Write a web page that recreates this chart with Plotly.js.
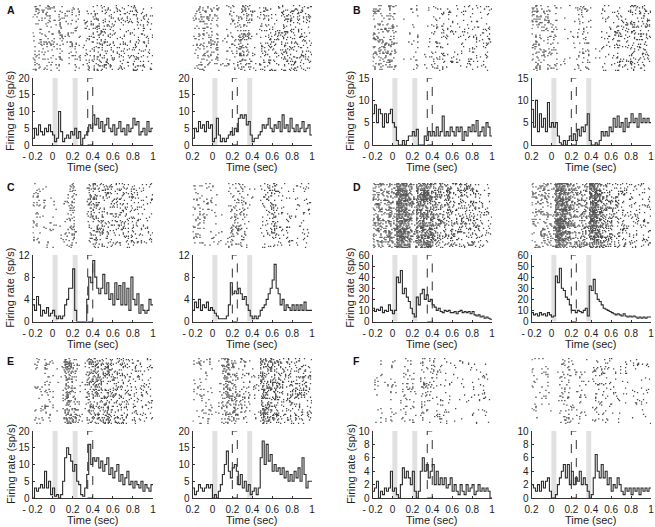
<!DOCTYPE html>
<html><head><meta charset="utf-8">
<script src="https://cdn.plot.ly/plotly-3.0.1.min.js"></script>
<style>body{margin:0;background:#fff}#chart{width:655px;height:527px}</style>
</head><body><div id="chart"></div>
<script>
// ---- DATA (firing rate in sp/s, 20 ms bins starting at -0.2 s) ----
const binStart = -0.2;
const binWidth = 0.02;
const xTickVals = [-0.2, 0, 0.2, 0.4, 0.6, 0.8, 1];
const xTickTextMinus = ['- 0.2', '0', '0.2', '0.4', '0.6', '0.8', '1'];
const xTickTextPlain = ['0.2', '0', '0.2', '0.4', '0.6', '0.8', '1'];
const panelLetters = ['A', 'B', 'C', 'D', 'E', 'F'];
const yMax = [20, 15, 12, 60, 20, 10];
const yStep = [5, 5, 4, 10, 5, 2];

const rateA1 = [2,5,3,6,4,3,5,4,6,4, 3,1,2,10,4,1,2,3,2,4, 3,5,2,4,0,2,3,4,6,5, 9,6,8,5,7,4,6,8,5,4, 6,3,5,7,4,5,3,6,4,5, 8,6,7,3,4,5,3,7,4,5];
const rateA2 = [2,5,4,7,5,6,4,7,5,6, 1,2,8,3,1,2,1,2,3,4, 3,5,4,8,9,8,9,6,7,3, 1,2,2,3,4,6,5,6,8,5, 4,6,5,7,4,9,5,6,4,8, 5,4,6,4,5,7,4,5,6,3];
const rateB1 = [7,9,5,8,7,4,7,5,7,8, 5,4,1,0,0,1,0,1,2,2, 3,2,3.5,0,0,0,2,1,3,2, 3,2,4,2,3,6.5,2,3,2,4, 3,2,4,3,4,1,3,2,4,3, 4.5,3,5.5,2,3,4,2,5,4,2];
const rateB2 = [8,4,10,3,7,4,6,3,9.5,4, 5,4,5,2,0.5,0,1,0,1,2, 1,2.5,1,3.5,2,4,3,4.5,7,1, 0,0,0.5,0,1,3,2,3,2,4, 3,6,4,6.5,4,5,3,6,4,5, 7,5,6,4,7,5,6,5,6,5];
const rateC1 = [3,2,4.5,3,1,2,1.5,2.5,1,1.5, 2,1,0.5,1,0.5,1,3,4,6,6, 9.5,2,0,0,0,0,0,4,8,7, 11,8,6,5,6,8.5,5,7,4,5, 3,7,4,6.5,3,7,3,6,2,8, 4,3,5,1.5,3,2,1.5,2,4,3];
const rateC2 = [2,3.5,2.5,4,2,3,2.5,3.5,2,2.5, 2,1.5,1,0.5,0.5,0.5,0.5,1,3,7, 5,5.5,5,6,5,4,4.5,3,2,1, 0.5,1,0.5,1,2,2.5,3,4,5,6, 7.5,10.3,6,5,3,4,2,3,2.5,2, 3,2,3,2,3,2,3.5,2,2,2];
const rateD1 = [12,9,11,10,13,8,10,9,15,10, 7,10,40,35,46,25,30,22,18,12, 7,4,22,15,25,29,20,24,18,20, 15,13,10,12,9,8,10,9,10,8, 8,9,7,9,10,8,9,8,9,7, 9,6,5,6,4,5,3,4,3,2];
const rateD2 = [8,6,7,5,8,6,7,5,8,6, 4,5,41,35,48,30,28,22,20,15, 10,10,8,10,9,8,10,12,5,32, 28,38,25,20,18,15,12,11,10,9, 8,7,6,7,6,5,7,5,4,5, 4,5,4,3,4,3,4,3,4,4];
const rateE1 = [0,3,2,3,4,3,8,3,5,1, 3,0.5,1,0,1,5,12,15,13,11, 8,10,5,4,1,0.5,3,7,16,10, 12,11,12,9,11,8,10,12,7,9, 6,8,10,5,7,4,6,8,4,5, 3,5,4,3,5,2,4,3,2,4];
const rateE2 = [3,1,2,4,3,2,3,4,3,4, 0,1,0,2,4,7,10,14,8,6, 9,10,8,4,7,3,5,2,4,1, 2,3,1,3,12,17,10,16,11,13, 8,10,8,9,7,9,6,8,5,7, 5,8,6,9,5,12,7,3,5,5];
const rateF1 = [1,1.5,2.5,0,1,0.5,1.5,1,1.5,4, 1,1.5,0.5,0,2,4.5,3,4,3,2, 4,1,0,1,4,6,4,5,3,4, 5,2,4,2,3,2,3,1.5,2,3, 1,2,1,0.5,2,1,0.5,2,1,1.5, 2,0.5,1,2,1,1.5,1,1.5,1,0];
const rateF2 = [2,1.5,1,2,1,2.5,1.5,2.5,3,1, 0,0,0.5,2,3,4,5,3,5,2, 4,2,3,2.5,4,2,3,2,1,0, 0.5,3,6.5,4,3,5,3,4,2,3, 1,2,1.5,3,2,1,0.5,1.5,1,1.5, 0.5,1.5,1,1.5,0.5,1.5,1,1.5,1,1.5];
const rates = [[rateA1, rateA2], [rateB1, rateB2], [rateC1, rateC2], [rateD1, rateD2], [rateE1, rateE2], [rateF1, rateF2]];

// ---- LAYOUT GEOMETRY (pixels) ----
const W = 655, H = 527;
const cols = [[32.5, 153], [192.5, 312], [372.5, 492], [531.5, 651]];
const psthRows = [[78, 145], [255, 321.5], [431, 498]];
const rasterRows = [[5, 71], [183, 248], [358, 424]];
const letterPos = [[5, 10], [351, 10], [5, 187], [351, 187], [5, 361], [351, 361]];
const fx = px => px / W;
const fy = px => 1 - px / H;
const FONT = 'Arial, "Liberation Sans", sans-serif';
const nTrials = 58;       // raster rows
const subCols = 2;        // raster columns per rate bin (10 ms each)

// deterministic threshold field (integer hash) used to halftone the read rate profile into raster dots
function thresh(a, b, s) {
  let h = (Math.imul(a + 1, 73856093) ^ Math.imul(b + 1, 19349663) ^ Math.imul(s + 1, 83492791)) | 0;
  h ^= h >>> 16; h = Math.imul(h, 0x85ebca6b);
  h ^= h >>> 13; h = Math.imul(h, 0xc2b2ae35);
  h ^= h >>> 16;
  return (h >>> 0) / 4294967296;
}
function rasterFromRate(r, seed) {
  const nc = r.length * subCols;
  const xs = [], ys = [];
  for (let t = 0; t < nTrials; t++) {
    for (let c = 0; c < nc; c++) {
      const d = Math.min(0.65, r[Math.floor(c / subCols)] * (binWidth / subCols) * 2.1);
      if (thresh(t, c, seed) < d) { xs.push(binStart + (c + 0.5) * binWidth / subCols); ys.push(t); }
    }
  }
  return {xs, ys};
}

const traces = [];
const layout = {
  width: W, height: H, margin: {l: 0, r: 0, t: 0, b: 0},
  paper_bgcolor: '#fff', plot_bgcolor: 'rgba(0,0,0,0)', showlegend: false,
  shapes: [], annotations: []
};
const axName = (c, n) => c + 'axis' + (n === 1 ? '' : n);
const axRef = (c, n) => c + (n === 1 ? '' : n);

let idx = 0;
for (let p = 0; p < 6; p++) {
  const row = Math.floor(p / 2);
  const colBase = (p % 2) * 2;
  for (let side = 0; side < 2; side++) {
    const col = cols[colBase + side];
    const r = rates[p][side];
    const nR = 2 * idx + 1, nP = 2 * idx + 2;
    idx++;
    // raster
    const ras = rasterFromRate(r, idx);
    traces.push({type: 'scatter', mode: 'markers', x: ras.xs, y: ras.ys,
      xaxis: axRef('x', nR), yaxis: axRef('y', nR), hoverinfo: 'skip',
      marker: {size: 1.3, color: '#4a4a4a', symbol: 'square', line: {width: 0}}});
    layout[axName('x', nR)] = {domain: [fx(col[0]), fx(col[1])], range: [-0.2, 1], visible: false, anchor: axRef('y', nR), fixedrange: true};
    layout[axName('y', nR)] = {domain: [fy(rasterRows[row][1]), fy(rasterRows[row][0])], range: [nTrials - 0.5, -0.5], visible: false, anchor: axRef('x', nR), fixedrange: true};
    // psth
    const xe = [], ye = [];
    for (let i = 0; i <= r.length; i++) { xe.push(binStart + i * binWidth); ye.push(r[Math.min(i, r.length - 1)]); }
    traces.push({type: 'scatter', mode: 'lines', x: xe, y: ye, line: {shape: 'hv', color: '#2b2b2b', width: 1.1},
      xaxis: axRef('x', nP), yaxis: axRef('y', nP), hoverinfo: 'skip'});
    const ttext = (side === 1 && p !== 2 && p !== 3) ? xTickTextPlain : xTickTextMinus;
    layout[axName('x', nP)] = {domain: [fx(col[0]), fx(col[1])], range: [-0.2, 1], anchor: axRef('y', nP),
      tickvals: xTickVals, ticktext: ttext, ticks: 'inside', ticklen: 2, tickcolor: '#333', ticklabelstandoff: 2,
      showline: true, linecolor: '#333', linewidth: 1, showgrid: false, zeroline: false,
      tickfont: {family: FONT, size: 10, color: '#222'}, fixedrange: true};
    layout[axName('y', nP)] = {domain: [fy(psthRows[row][1]), fy(psthRows[row][0])], range: [0, yMax[p]], dtick: yStep[p], tick0: 0,
      anchor: axRef('x', nP), ticks: 'inside', ticklen: 2, tickcolor: '#333', showline: true, linecolor: '#333', linewidth: 1,
      showgrid: false, zeroline: false, tickfont: {family: FONT, size: 10, color: '#222'}, fixedrange: true};
    // stimulus bands and dashed window
    const bands = side === 0 ? [[0, 0.05], [0.2, 0.25]] : [[0, 0.05], [0.35, 0.4]];
    const dashed = side === 0 ? [0.35, 0.4] : [0.2, 0.25];
    bands.forEach(b => layout.shapes.push({type: 'rect', xref: axRef('x', nP), yref: axRef('y', nP),
      x0: b[0], x1: b[1], y0: 0, y1: yMax[p], fillcolor: '#e1e1e1', line: {width: 0}, layer: 'below'}));
    layout.shapes.push({type: 'rect', xref: axRef('x', nP), yref: axRef('y', nP), x0: dashed[0], x1: dashed[1], y0: 0, y1: yMax[p],
      fillcolor: 'rgba(0,0,0,0)', line: {color: '#333', width: 1, dash: 'dash'}, layer: 'above'});
    // time label
    layout.annotations.push({text: 'Time (sec)', xref: 'paper', yref: 'paper', x: fx((col[0] + col[1]) / 2), y: fy(psthRows[row][1] + 22),
      showarrow: false, xanchor: 'center', yanchor: 'middle', font: {family: FONT, size: 11, color: '#222'}});
    if (side === 0) {
      layout.annotations.push({text: 'Firing rate (sp/s)', xref: 'paper', yref: 'paper', x: fx(col[0] - 22), y: fy((psthRows[row][0] + psthRows[row][1]) / 2),
        showarrow: false, textangle: -90, xanchor: 'center', yanchor: 'middle', font: {family: FONT, size: 11, color: '#222'}});
    }
  }
  layout.annotations.push({text: '<b>' + panelLetters[p] + '</b>', xref: 'paper', yref: 'paper', x: fx(letterPos[p][0]), y: fy(letterPos[p][1]),
    showarrow: false, xanchor: 'left', yanchor: 'middle', font: {family: FONT, size: 10.5, color: '#111'}});
}

Plotly.newPlot('chart', traces, layout, {staticPlot: true, displayModeBar: false});
</script></body></html>
